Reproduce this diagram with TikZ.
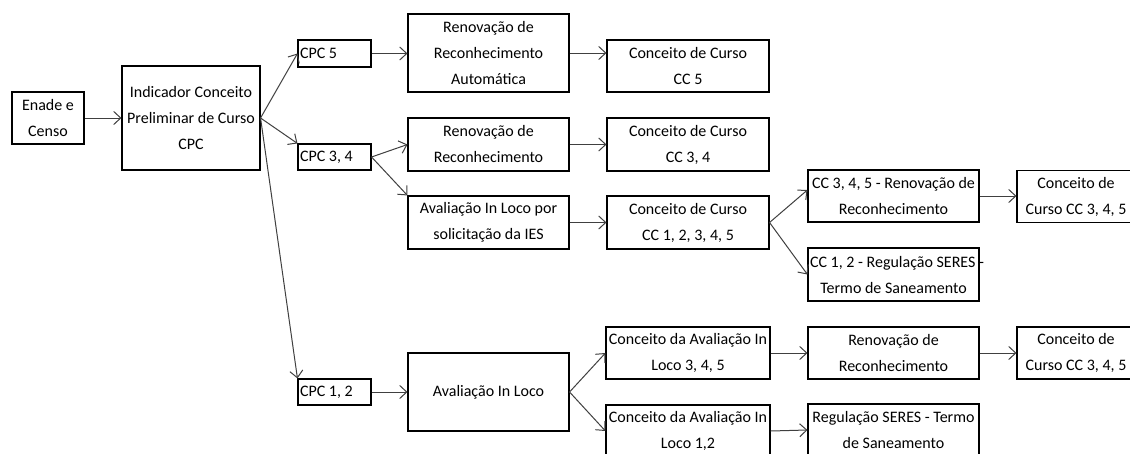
\documentclass[tikz,border=0pt]{standalone}
\usepackage{fontspec}
\setmainfont{Carlito}
\usetikzlibrary{arrows.meta}
\begin{document}
\begin{tikzpicture}[x=1pt,y=-1pt,
  box/.style n args={2}{draw=black, line width=1.1pt, inner xsep=0pt, inner ysep=0pt,
    align=center, minimum width=#1, minimum height=#2,
    font=\fontsize{16}{26}\selectfont, text=black},
  lbox/.style n args={2}{draw=black, line width=1.1pt, inner xsep=2pt, inner ysep=0pt,
    align=flush left, text width=#1-4pt, minimum width=#1, minimum height=#2,
    font=\fontsize{16}{26}\selectfont, text=black},
  conn/.style={draw=black!75, line width=1pt, -{Straight Barb[length=7pt,width=13pt,line width=1pt]}}]
\useasboundingbox (0,0) rectangle (1130,453);
\clip (0,0) rectangle (1130,453);
\fill[white] (0,0) rectangle (1130,453);

\node[box={72pt}{52pt}] (enade) at (48,118) {Enade e\\Censo};
\node[box={138pt}{104pt}] (ind) at (191,118) {Indicador Conceito\\Preliminar de Curso\\CPC};
\node[lbox={73pt}{27pt}] (cpc5) at (334.5,53.5) {CPC 5};
\node[lbox={73pt}{26pt}] (cpc34) at (334.5,157) {CPC 3, 4};
\node[lbox={73pt}{26pt}] (cpc12) at (334.5,392) {CPC 1, 2};

\node[box={161pt}{78pt}] (renauto) at (488.5,53) {Renovação de\\Reconhecimento\\Automática};
\node[box={162pt}{52pt}] (cc5) at (688,66) {Conceito de Curso\\CC 5};
\node[box={161pt}{53pt}] (ren) at (488.5,144.5) {Renovação de\\Reconhecimento};
\node[box={162pt}{53pt}] (cc34) at (688,144.5) {Conceito de Curso\\CC 3, 4};
\node[box={161pt}{53pt}] (aval) at (488.5,222.5) {Avaliação In Loco por\\solicitação da IES};
\node[box={162pt}{53pt}] (cc15) at (688,222.5) {Conceito de Curso\\CC 1, 2, 3, 4, 5};
\node[box={171pt}{52pt}] (ccren) at (893.5,196) {CC 3, 4, 5 - Renovação de\\Reconhecimento};
\node[box={118pt}{52pt}] (cct) at (1076,196.5) {Conceito de\\Curso CC 3, 4, 5};
\node[box={171pt}{53pt}] (cc12) at (893.5,274.5) {\makebox[167pt][l]{CC 1, 2 - Regulação SERES -}\\Termo de Saneamento};

\node[box={161pt}{78pt}] (avl) at (488.5,392) {Avaliação In Loco};
\node[box={164pt}{52pt}] (ca345) at (688,353) {Conceito da Avaliação In\\Loco 3, 4, 5};
\node[box={164pt}{52pt}] (ca12) at (688,431) {Conceito da Avaliação In\\Loco 1,2};
\node[box={171pt}{52pt}] (ren2) at (893.5,353) {Renovação de\\Reconhecimento};
\node[box={118pt}{52pt}] (cct2) at (1076,353) {Conceito de\\Curso CC 3, 4, 5};
\node[box={171pt}{52pt}] (reg) at (893.5,430) {Regulação SERES - Termo\\de Saneamento};

\draw[conn] (enade.east) -- (ind.west);
\draw[conn] (ind.east) -- (cpc5.west);
\draw[conn] (ind.east) -- (cpc34.north west);
\draw[conn] (ind.east) -- (cpc12.north west);
\draw[conn] (cpc5.east) -- (cpc5.east -| renauto.west);
\draw[conn] (renauto.east) -- (renauto.east -| cc5.west);
\draw[conn] (cpc34.east) -- (ren.west);
\draw[conn] (cpc34.east) -- (aval.north west);
\draw[conn] (ren.east) -- (cc34.west);
\draw[conn] (aval.east) -- (cc15.west);
\draw[conn] (cc15.east) -- ([yshift=6pt]ccren.west);
\draw[conn] (cc15.east) -- (cc12.west);
\draw[conn] (ccren.east) -- (ccren.east -| cct.west);
\draw[conn] (cpc12.east) -- (avl.west);
\draw[conn] (avl.east) -- (ca345.west);
\draw[conn] (avl.east) -- (ca12.west);
\draw[conn] (ca345.east) -- (ren2.west);
\draw[conn] (ren2.east) -- (cct2.west);
\draw[conn] (ca12.east) -- (reg.west);
\end{tikzpicture}
\end{document}
